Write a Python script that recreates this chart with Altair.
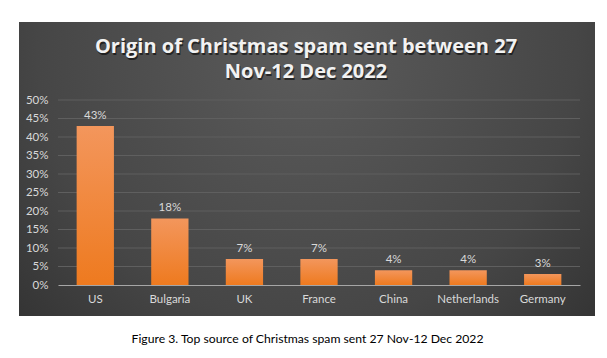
import altair as alt
import pandas as pd

countries = ["US", "Bulgaria", "UK", "France", "China", "Netherlands", "Germany"]
shares = [0.43, 0.18, 0.07, 0.07, 0.04, 0.04, 0.03]
y_ticks = [0, 0.05, 0.10, 0.15, 0.20, 0.25, 0.30, 0.35, 0.40, 0.45, 0.50]
title_lines = ["Origin of Christmas spam sent between 27", "Nov-12 Dec 2022"]
caption = "Figure 3. Top source of Christmas spam sent 27 Nov-12 Dec 2022"

df = pd.DataFrame({"country": countries, "share": shares})
grid_df = pd.DataFrame({"tick": y_ticks[1:]})
one_df = pd.DataFrame({"k": [0]})

W, H = 522, 185
yscale = alt.Scale(domain=[0, 0.5])

panel_fill = {
    "gradient": "radial",
    "x1": 0.5, "y1": 0.3, "r1": 0,
    "x2": 0.5, "y2": 0.3, "r2": 0.85,
    "stops": [
        {"offset": 0, "color": "#5b5b5b"},
        {"offset": 0.55, "color": "#464646"},
        {"offset": 1, "color": "#262626"},
    ],
}
bar_fill = {
    "gradient": "linear",
    "x1": 0, "y1": 0, "x2": 0, "y2": 1,
    "stops": [
        {"offset": 0, "color": "#f3965c"},
        {"offset": 1, "color": "#ee7a1f"},
    ],
}

yaxis = alt.Axis(
    values=y_ticks, format=".0%", grid=False, ticks=False, domain=False,
    labelColor="#d9d9d9", labelFont="Lato", labelFontSize=11.5,
    labelPadding=10, title=None, zindex=1,
)

panel = alt.Chart(one_df).mark_rect(fill=panel_fill).encode(
    x=alt.value(-39), x2=alt.value(W + 15), y=alt.value(-78), y2=alt.value(H + 31)
)

TX = 248
TY = -47
title_shadow = alt.Chart(one_df).mark_text(
    text=title_lines, font="Open Sans", fontSize=20, fontWeight="bold",
    color="#000000", opacity=0.55, baseline="alphabetic", align="center",
    lineHeight=25, dx=1, dy=1.5,
).encode(x=alt.value(TX), y=alt.value(TY))

title = alt.Chart(one_df).mark_text(
    text=title_lines, font="Open Sans", fontSize=20, fontWeight="bold",
    color="#f2f2f2", baseline="alphabetic", align="center", lineHeight=25,
).encode(x=alt.value(TX), y=alt.value(TY))

grid = alt.Chart(grid_df).mark_rule(color="#5f5f5f", strokeWidth=1).encode(
    y=alt.Y("tick:Q", scale=yscale, axis=yaxis),
    x=alt.value(0), x2=alt.value(W),
)

xenc = alt.X(
    "country:N", sort=countries,
    scale=alt.Scale(paddingInner=0.5, paddingOuter=0.25),
    axis=alt.Axis(
        labelAngle=0, labelColor="#d9d9d9", labelFont="Lato", labelFontSize=11.5,
        ticks=False, domainColor="#a6a6a6", labelPadding=8, zindex=1,
        title=caption, titleColor="#000000", titleFont="Lato", titleFontSize=12.2,
        titleFontWeight="normal", titleX=249, titleY=53, titleAlign="center",
        titleBaseline="middle",
    ),
)
yenc = alt.Y("share:Q", scale=yscale, axis=yaxis)

bars = alt.Chart(df).mark_bar(fill=bar_fill).encode(x=xenc, y=yenc)
labels = alt.Chart(df).mark_text(
    baseline="bottom", dy=-5, color="#d9d9d9", font="Lato", fontSize=11.5
).encode(x=xenc, y=yenc, text=alt.Text("share:Q", format=".0%"))

chart = alt.layer(panel, title_shadow, title, grid, bars, labels).properties(
    width=W, height=H,
    padding={"left": 50, "top": 92, "right": 19, "bottom": 65},
    autosize=alt.AutoSizeParams(type="none"),
    background="#ffffff",
).configure_view(stroke=None)

chart.save("out.html", embed_options={"renderer": "svg", "actions": False})
